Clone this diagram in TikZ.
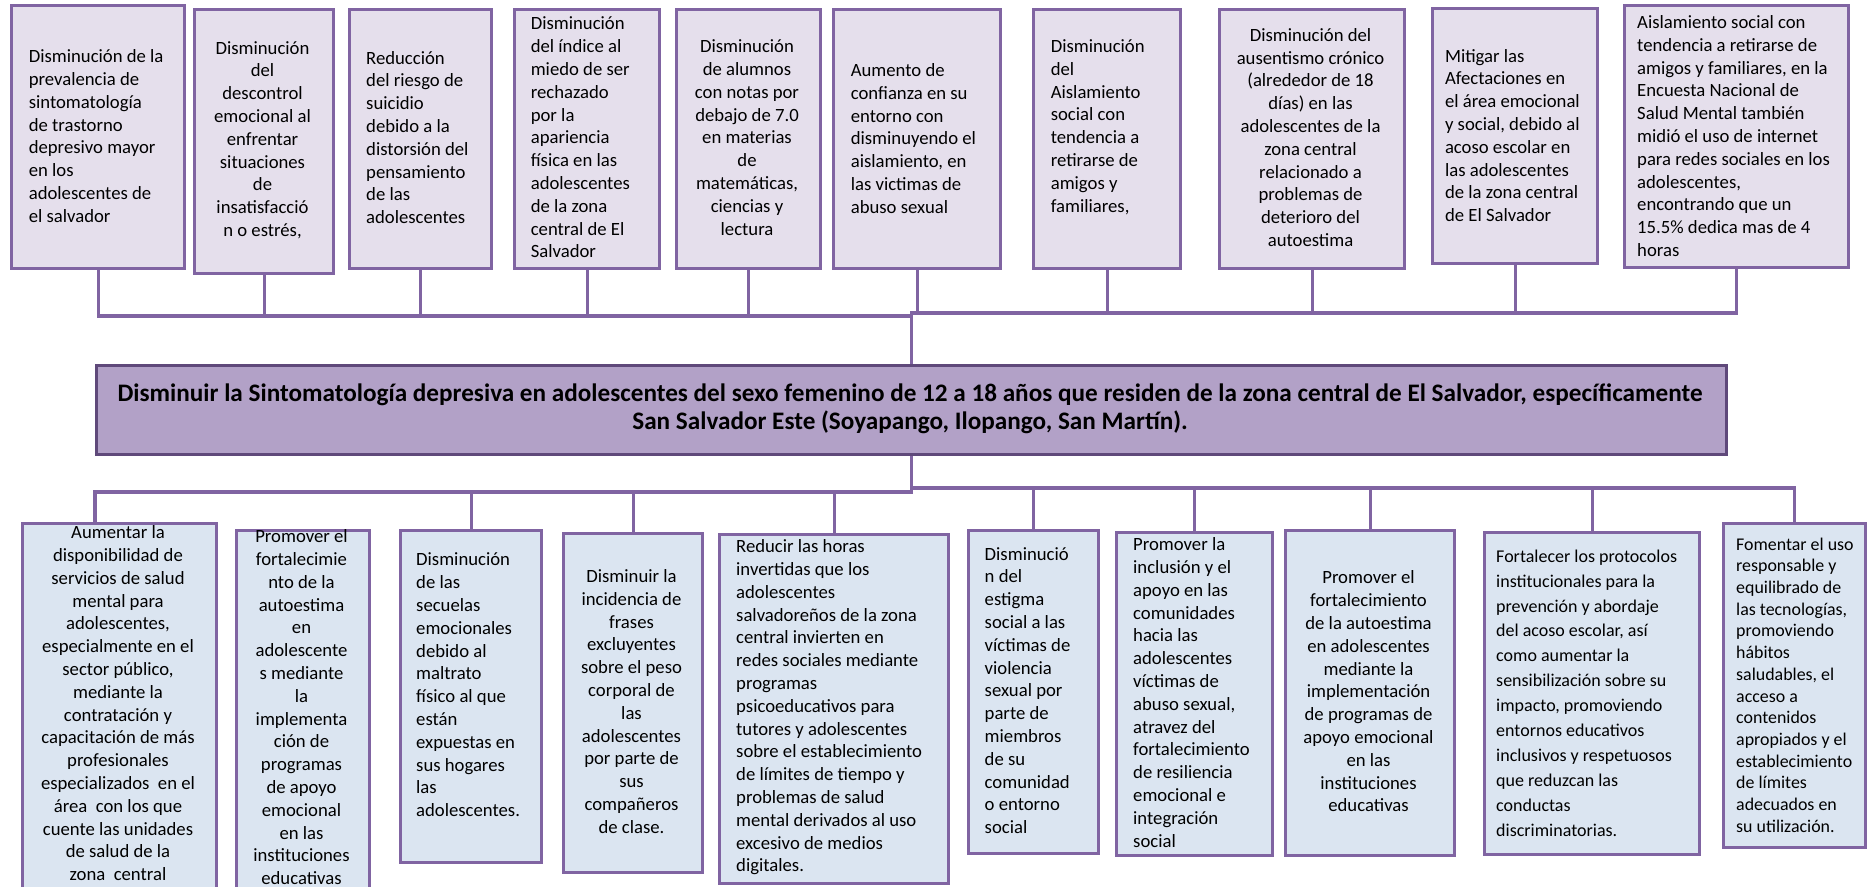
\documentclass[tikz,border=0pt]{standalone}
\usepackage{fontspec}
\setmainfont{Carlito}
\definecolor{topfill}{HTML}{E5DFEC}
\definecolor{botfill}{HTML}{DBE5F1}
\definecolor{mainfill}{HTML}{B2A1C7}
\definecolor{mainborder}{HTML}{5F497A}
\definecolor{purp}{HTML}{8064A2}
\pgfdeclarelayer{bg}
\pgfsetlayers{bg,main}
\tikzset{
  box/.style={draw=purp, line width=3.3pt, inner sep=0pt, anchor=north west},
  tbox/.style={box, fill=topfill},
  bbox/.style={box, fill=botfill},
  mbox/.style={draw=mainborder, fill=mainfill, line width=3.3pt, inner sep=0pt, anchor=north west},
  txt/.style={inner sep=0pt, text=black, font=\fontsize{18.7}{22.8}\selectfont},
  ltxt/.style={txt, align=left, anchor=west},
  ctxt/.style={txt, align=center},
  stxt/.style={inner sep=0pt, text=black, align=left, anchor=west, font=\fontsize{18}{24.9}\selectfont},
  sstxt/.style={inner sep=0pt, text=black, align=left, anchor=west, font=\fontsize{17.9}{21.7}\selectfont},
  mtxt/.style={inner sep=0pt, text=black, align=center, font=\bfseries\fontsize{25.2}{27.5}\selectfont},
  conn/.style={draw=purp, line width=3.1pt},
}
\begin{document}
\begin{tikzpicture}[x=1pt,y=-1pt]
\useasboundingbox (0,0) rectangle (1867,886);
\clip (0,0) rectangle (1867,886);
\begin{pgfonlayer}{bg}
\fill[white] (0,0) rectangle (1867,886);
\end{pgfonlayer}

% ---------- top boxes ----------
\node[tbox, minimum width=173, minimum height=263] (T1) at (10,4) {};
\node[tbox, minimum width=139, minimum height=264] (T2) at (193,8) {};
\node[tbox, minimum width=142, minimum height=259] (T3) at (348,8) {};
\node[tbox, minimum width=145, minimum height=259] (T4) at (513,8) {};
\node[tbox, minimum width=144, minimum height=259] (T5) at (675,8) {};
\node[tbox, minimum width=167, minimum height=259] (T6) at (832,8) {};
\node[tbox, minimum width=147, minimum height=259] (T7) at (1032,8) {};
\node[tbox, minimum width=185, minimum height=259] (T8) at (1218,8) {};
\node[tbox, minimum width=165, minimum height=255] (T9) at (1431,7) {};
\node[tbox, minimum width=224, minimum height=262] (T10) at (1623,4) {};

\node[ltxt] (T1t) at (28.6,136) {Disminución de la\\prevalencia de\\sintomatología\\de trastorno\\depresivo mayor\\en los\\adolescentes de\\el salvador};
\node[ctxt] (T2t) at (262.5,140) {Disminución\\del\\descontrol\\emocional al\\enfrentar\\situaciones\\de\\insatisfacció\\n o estrés,};
\node[ltxt] (T3t) at (366,137.5) {Reducción\\del riesgo de\\suicidio\\debido a la\\distorsión del\\pensamiento\\de las\\adolescentes};
\node[ltxt] (T4t) at (530.6,137.5) {Disminución\\del índice al\\miedo de ser\\rechazado\\por la\\apariencia\\física en las\\adolescentes\\de la zona\\central de El\\Salvador};
\node[ctxt] (T5t) at (747,137.5) {Disminución\\de alumnos\\con notas por\\debajo de 7.0\\en materias\\de\\matemáticas,\\ciencias y\\lectura};
\node[ltxt] (T6t) at (850.6,138.5) {Aumento de\\confianza en su\\entorno con\\disminuyendo el\\aislamiento, en\\las victimas de\\abuso sexual};
\node[ltxt] (T7t) at (1050.6,127) {Disminución\\del\\Aislamiento\\social con\\tendencia a\\retirarse de\\amigos y\\familiares,};
\node[ctxt] (T8t) at (1310.5,137.5) {Disminución del\\ausentismo crónico\\(alrededor de 18\\días) en las\\adolescentes de la\\zona central\\relacionado a\\problemas de\\deterioro del\\autoestima};
\node[ltxt] (T9t) at (1444.8,135.5) {Mitigar las\\Afectaciones en\\el área emocional\\y social, debido al\\acoso escolar en\\las adolescentes\\de la zona central\\de El Salvador};
\node[ltxt] (T10t) at (1637,136) {Aislamiento social con\\tendencia a retirarse de\\amigos y familiares, en la\\Encuesta Nacional de\\Salud Mental también\\midió el uso de internet\\para redes sociales en los\\adolescentes,\\encontrando que un\\15.5\% dedica mas de 4\\horas};

% ---------- main box ----------
\node[mbox, minimum width=1630, minimum height=89] (M) at (95,363.5) {};
\node[mtxt] (Mt) at (910,409) {Disminuir la Sintomatología depresiva en adolescentes del sexo femenino de 12 a 18 años que residen de la zona central de El Salvador, específicamente\\San Salvador Este (Soyapango, Ilopango, San Martín).};

% ---------- bottom boxes ----------
\node[bbox, minimum width=194, minimum height=400] (B1) at (21,522) {};
\node[bbox, minimum width=133, minimum height=400] (B2) at (235,529) {};
\node[bbox, minimum width=141, minimum height=332] (B3) at (399,529) {};
\node[bbox, minimum width=139, minimum height=339] (B4) at (562,532) {};
\node[bbox, minimum width=229, minimum height=349] (B5) at (718,533) {};
\node[bbox, minimum width=130, minimum height=323] (B6) at (967,529) {};
\node[bbox, minimum width=156, minimum height=323] (B7) at (1115,531) {};
\node[bbox, minimum width=169, minimum height=325] (B8) at (1284,529) {};
\node[bbox, minimum width=215, minimum height=322] (B9) at (1483,531) {};
\node[bbox, minimum width=142, minimum height=324] (B10) at (1722,522) {};

\node[ctxt, anchor=north] (B1t) at (118,525.5) {Aumentar la\\disponibilidad de\\servicios de salud\\mental para\\adolescentes,\\especialmente en el\\sector público,\\mediante la\\contratación y\\capacitación de más\\profesionales\\especializados\ \ en el\\área\ \ con los que\\cuente las unidades\\de salud de la\\zona\ \ central};
\node[ctxt, anchor=north] (B2t) at (301.5,529.5) {Promover el\\fortalecimie\\nto de la\\autoestima\\en\\adolescente\\s mediante\\la\\implementa\\ción de\\programas\\de apoyo\\emocional\\en las\\instituciones\\educativas};
\node[ltxt] (B3t) at (416,685) {Disminución\\de las\\secuelas\\emocionales\\debido al\\maltrato\\físico al que\\están\\expuestas en\\sus hogares\\las\\adolescentes.};
\node[ctxt] (B4t) at (631.5,701.5) {Disminuir la\\incidencia de\\frases\\excluyentes\\sobre el peso\\corporal de\\las\\adolescentes\\por parte de\\sus\\compañeros\\de clase.};
\node[ltxt] (B5t) at (736,707.5) {Reducir las horas\\invertidas que los\\adolescentes\\salvadoreños de la zona\\central invierten en\\redes sociales mediante\\programas\\psicoeducativos para\\tutores y adolescentes\\sobre el establecimiento\\de límites de tiempo y\\problemas de salud\\mental derivados al uso\\excesivo de medios\\digitales.};
\node[ltxt] (B6t) at (984.5,690.5) {Disminució\\n del\\estigma\\social a las\\víctimas de\\violencia\\sexual por\\parte de\\miembros\\de su\\comunidad\\o entorno\\social};
\node[ltxt] (B7t) at (1133,692.5) {Promover la\\inclusión y el\\apoyo en las\\comunidades\\hacia las\\adolescentes\\víctimas de\\abuso sexual,\\atravez del\\fortalecimiento\\de resiliencia\\emocional e\\integración\\social};
\node[ctxt] (B8t) at (1368.5,691.5) {Promover el\\fortalecimiento\\de la autoestima\\en adolescentes\\mediante la\\implementación\\de programas de\\apoyo emocional\\en las\\instituciones\\educativas};
\node[stxt] (B9t) at (1496,693) {Fortalecer los protocolos\\institucionales para la\\prevención y abordaje\\del acoso escolar, así\\como aumentar la\\sensibilización sobre su\\impacto, promoviendo\\entornos educativos\\inclusivos y respetuosos\\que reduzcan las\\conductas\\discriminatorias.};
\node[sstxt] (B10t) at (1736,685) {Fomentar el uso\\responsable y\\equilibrado de\\las tecnologías,\\promoviendo\\hábitos\\saludables, el\\acceso a\\contenidos\\apropiados y el\\establecimiento\\de límites\\adecuados en\\su utilización.};

% ---------- connectors ----------
\coordinate (tbL) at (0,316);
\coordinate (tbR) at (0,313);
\coordinate (bbL) at (0,492);
\coordinate (bbR) at (0,488);
\coordinate (b1in) at (95,522);
\begin{pgfonlayer}{bg}
\foreach \t in {T1,T2,T3,T4,T5}
  \draw[conn] (\t.south) -- (\t.south |- tbL) -| (M.north);
\foreach \t in {T6,T7,T8,T9,T10}
  \draw[conn] (\t.south) -- (\t.south |- tbR) -| (M.north);
\draw[conn] (M.south) -- (M.south |- bbL) -| (b1in);
\foreach \b in {B3,B4,B5}
  \draw[conn] (M.south) -- (M.south |- bbL) -| (\b.north);
\foreach \b in {B6,B7,B8,B9,B10}
  \draw[conn] (M.south) -- (M.south |- bbR) -| (\b.north);
\end{pgfonlayer}
\end{tikzpicture}
\end{document}
